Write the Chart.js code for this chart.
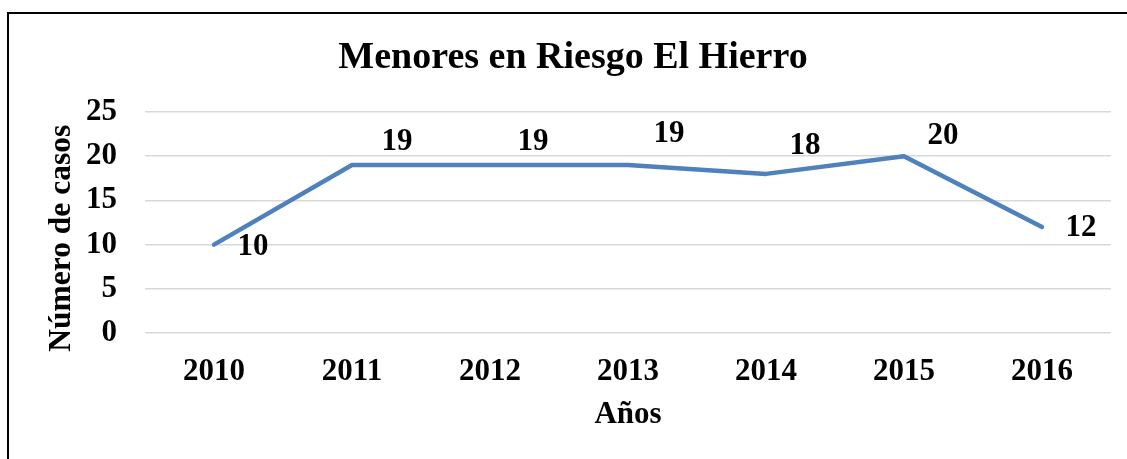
<!DOCTYPE html>
<html>
<head>
<meta charset="utf-8">
<script src="https://cdn.jsdelivr.net/npm/chart.js@4"></script>
<style>
  html, body { margin: 0; padding: 0; background: #fff; overflow: hidden; }
  #wrap { position: relative; width: 1127px; height: 459px; }
  #frame { position: absolute; left: 7px; top: 12px; width: 2000px; height: 2000px;
           border-top: 2px solid #000; border-left: 2px solid #000; pointer-events: none; }
  canvas { position: absolute; left: 0; top: 0; }
</style>
</head>
<body>
<div id="wrap">
  <canvas id="c" width="1127" height="459"></canvas>
  <div id="frame"></div>
</div>
<script>
const categories = ['2010', '2011', '2012', '2013', '2014', '2015', '2016'];
const casos = [10, 19, 19, 19, 18, 20, 12];
const yTicks = [0, 5, 10, 15, 20, 25];
const chartTitle = 'Menores en Riesgo El Hierro';
const xTitle = 'Años';
const yTitle = 'Número de casos';

const FONT = '"Liberation Serif", "Times New Roman", serif';
const LINE_COLOR = '#4F81BD';
// label offsets (px) relative to each point
const labelOffsets = [[39, 2], [45, -23], [43, -23], [41, -31], [39, -28], [39, -20], [39, 1]];

const dataLabels = {
  id: 'dataLabels',
  afterDatasetsDraw(chart) {
    const ctx = chart.ctx;
    const meta = chart.getDatasetMeta(0);
    ctx.save();
    ctx.font = 'bold 31px ' + FONT;
    ctx.fillStyle = '#000';
    ctx.textAlign = 'center';
    ctx.textBaseline = 'middle';
    meta.data.forEach((pt, i) => {
      const off = labelOffsets[i];
      ctx.fillText(String(casos[i]), pt.x + off[0], pt.y + off[1]);
    });
    ctx.restore();
  }
};

new Chart(document.getElementById('c'), {
  type: 'line',
  data: {
    labels: categories,
    datasets: [{
      label: 'Casos',
      data: casos,
      borderColor: LINE_COLOR,
      backgroundColor: LINE_COLOR,
      borderWidth: 4.5,
      pointRadius: 0,
      tension: 0,
      borderCapStyle: 'round',
      borderJoinStyle: 'round',
      fill: false
    }]
  },
  options: {
    responsive: false,
    animation: false,
    devicePixelRatio: 1,
    layout: { padding: { left: 35, right: 16, top: 0, bottom: 0 } },
    plugins: {
      legend: { display: false },
      tooltip: { enabled: false },
      title: {
        display: true,
        text: chartTitle,
        color: '#000',
        font: { family: FONT, size: 38, weight: 'bold', lineHeight: 1.2 },
        padding: { top: 35, bottom: 31.4 }
      }
    },
    scales: {
      x: {
        offset: true,
        grid: { display: false, drawTicks: false },
        border: { display: false },
        ticks: { color: '#000', padding: 20, font: { family: FONT, size: 31, weight: 'bold' }, maxRotation: 0 },
        title: { display: true, text: xTitle, color: '#000',
                 font: { family: FONT, size: 31, weight: 'bold', lineHeight: 1.2 },
                 padding: { top: 0, bottom: 25 } },
        afterFit: s => { s.height = 126; }
      },
      y: {
        min: 0, max: 25,
        afterBuildTicks: s => { s.ticks = yTicks.map(v => ({ value: v })); },
        grid: { color: '#D9D9D9', lineWidth: 1.5, drawTicks: false },
        border: { display: false },
        ticks: { color: '#000', padding: 28, font: { family: FONT, size: 31, weight: 'bold' } },
        title: { display: true, text: yTitle + '    ', color: '#000',
                 font: { family: FONT, size: 31.5, weight: 'bold', lineHeight: 1.2 },
                 padding: { top: 8, bottom: 0 } },
        afterFit: s => { s.width = 110; }
      }
    }
  },
  plugins: [dataLabels]
});
</script>
</body>
</html>
